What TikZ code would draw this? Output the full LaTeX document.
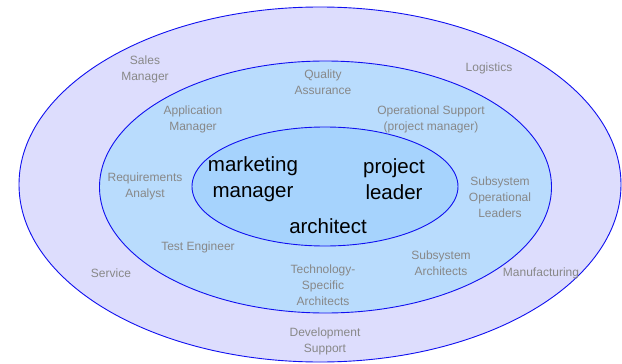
\documentclass[tikz,border=0pt]{standalone}
\usepackage{fontspec}
\setmainfont{Liberation Sans}
\definecolor{outerfill}{HTML}{DDDDFD}
\definecolor{midfill}{HTML}{B9DCFD}
\definecolor{innerfill}{HTML}{A6D3FD}
\definecolor{ringline}{HTML}{1010F0}
\definecolor{labelgray}{HTML}{888888}
\tikzset{
  ring/.style={draw=ringline, line width=0.9pt},
  role/.style={text=labelgray, font=\fontsize{12}{16}\selectfont, align=center, inner sep=0pt},
  core/.style={text=black, font=\fontsize{20.5}{26}\selectfont, align=center, inner sep=0pt}
}
\begin{document}
\begin{tikzpicture}[x=1pt,y=-1pt]
\useasboundingbox (0,0) rectangle (622,364);
\clip (0,0) rectangle (622,364);
\fill[white] (0,0) rectangle (622,364);
\draw[ring, fill=outerfill] (320,184.5) ellipse [x radius=301, y radius=177.5];
\draw[ring, fill=midfill] (325.5,187) ellipse [x radius=226, y radius=126];
\draw[ring, fill=innerfill] (325,186.5) ellipse [x radius=133, y radius=59.5];

\node[role] (sales) at (145,69.5) {Sales\\Manager};
\node[role] (qa) at (323,82.5) {Quality\\Assurance};
\node[role] (logistics) at (489,68.5) {Logistics};
\node[role] (appman) at (193,119.5) {Application\\Manager};
\node[role] (opsupport) at (431,119.5) {Operational Support\\(project manager)};
\node[role] (reqan) at (145,186.5) {Requirements\\Analyst};
\node[role] (subopl) at (500,197.5) {Subsystem\\Operational\\Leaders};
\node[role] (testeng) at (198,247.5) {Test Engineer};
\node[role] (service) at (111,273.5) {Service};
\node[role] (techspec) at (323,285.5) {Technology-\\Specific\\Architects};
\node[role] (subarch) at (441,263.5) {Subsystem\\Architects};
\node[role] (manuf) at (541,273.5) {Manufacturing};
\node[role] (devsup) at (325,341.5) {Development\\Support};

\node[core] (mktman) at (253,179) {marketing\\manager};
\node[core] (projlead) at (394,179) {project\\leader};
\node[core] (arch) at (328,226) {architect};
\end{tikzpicture}
\end{document}
